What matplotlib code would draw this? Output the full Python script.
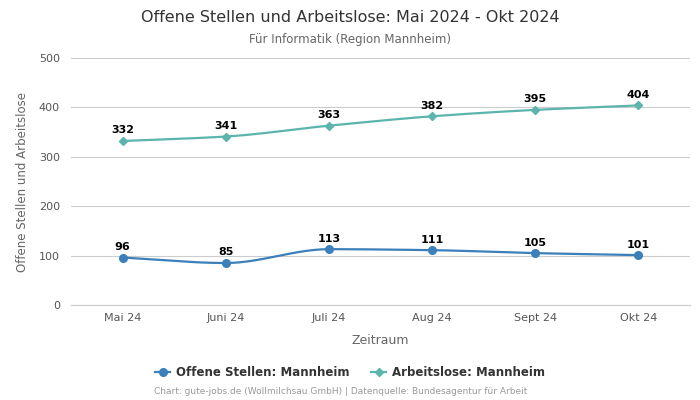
import numpy as np
import matplotlib.pyplot as plt

months = ['Mai 24', 'Juni 24', 'Juli 24', 'Aug 24', 'Sept 24', 'Okt 24']
offene_stellen = [96, 85, 113, 111, 105, 101]
arbeitslose = [332, 341, 363, 382, 395, 404]

c_os = '#3b80ba'
c_al = '#5bb5ad'


def monotone(x, y, n=40):
    # Fritsch-Carlson monotone cubic, only for drawing the smooth line
    x = np.asarray(x, float)
    y = np.asarray(y, float)
    h = np.diff(x)
    d = np.diff(y) / h
    m = np.zeros_like(y)
    m[0], m[-1] = d[0], d[-1]
    for i in range(1, len(y) - 1):
        if d[i - 1] * d[i] <= 0:
            m[i] = 0
        else:
            m[i] = 3 * (h[i - 1] + h[i]) / ((2 * h[i] + h[i - 1]) / d[i - 1] + (h[i] + 2 * h[i - 1]) / d[i])
    xs, ys = [], []
    for i in range(len(h)):
        t = np.linspace(0, 1, n)
        h00 = 2 * t**3 - 3 * t**2 + 1
        h10 = t**3 - 2 * t**2 + t
        h01 = -2 * t**3 + 3 * t**2
        h11 = t**3 - t**2
        xs.append(x[i] + t * h[i])
        ys.append(h00 * y[i] + h10 * h[i] * m[i] + h01 * y[i + 1] + h11 * h[i] * m[i + 1])
    return np.concatenate(xs), np.concatenate(ys)


fig = plt.figure(figsize=(7, 4), dpi=100)
ax = fig.add_axes([0.1014, 0.2375, 0.8843, 0.6175])

x = np.arange(len(months))
for vals, col, mk, ms, lab in [(offene_stellen, c_os, 'o', 5.5, 'Offene Stellen: Mannheim'),
                                (arbeitslose, c_al, 'D', 3.8, 'Arbeitslose: Mannheim')]:
    sx, sy = monotone(x, vals)
    ax.plot(sx, sy, color=col, lw=1.6, zorder=3)
    ax.plot(x, vals, marker=mk, ms=ms, color=col, lw=0, zorder=4)
    ax.plot([], [], color=col, marker=mk, ms=ms, lw=1.6, label=lab)
    for xi, v in zip(x, vals):
        ax.annotate(str(v), (xi, v), xytext=(0, 4), textcoords='offset points',
                    ha='center', va='bottom', fontsize=8, fontweight='bold', color='black')

ax.set_xlim(-0.5, len(months) - 0.5)
ax.set_ylim(0, 500)
ax.set_yticks([0, 100, 200, 300, 400, 500])
ax.set_xticks(x)
ax.set_xticklabels(months)
ax.grid(axis='y', color='#cccccc', lw=0.8)
ax.set_axisbelow(True)
for s in ['top', 'right', 'left']:
    ax.spines[s].set_visible(False)
ax.spines['bottom'].set_color('#cccccc')
ax.tick_params(axis='both', length=0, labelsize=8, colors='#555555', pad=8)
ax.tick_params(axis='x', pad=6)
ax.set_xlabel('Zeitraum', fontsize=9, color='#666666', labelpad=8)
ax.set_ylabel('Offene Stellen und Arbeitslose', fontsize=8.5, color='#666666', labelpad=7)

fig.text(0.5, 0.957, 'Offene Stellen und Arbeitslose: Mai 2024 - Okt 2024', ha='center', va='center',
         fontsize=11.5, color='#333333')
fig.text(0.5, 0.902, 'Für Informatik (Region Mannheim)', ha='center', va='center',
         fontsize=8.5, color='#666666')

leg = fig.legend(loc='center', bbox_to_anchor=(0.5, 0.068), ncol=2, frameon=False,
                 prop={'size': 8.5, 'weight': 'bold'}, handlelength=1.3, handletextpad=0.5,
                 columnspacing=1.8)
for t in leg.get_texts():
    t.set_color('#333333')

fig.text(0.486, 0.02, 'Chart: gute-jobs.de (Wollmilchsau GmbH) | Datenquelle: Bundesagentur für Arbeit',
         ha='center', va='center', fontsize=6.5, color='#999999')

fig.savefig('out.png', dpi=100)
